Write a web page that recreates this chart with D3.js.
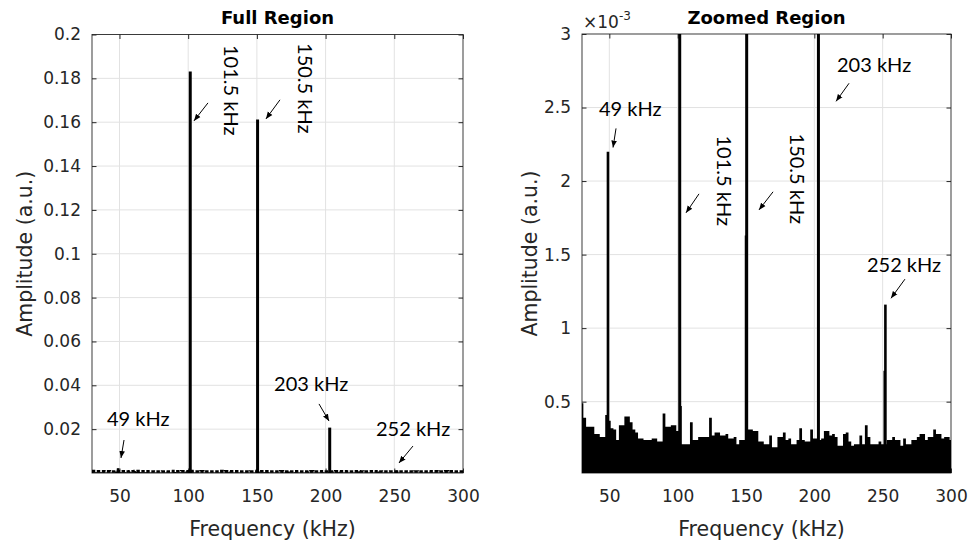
<!DOCTYPE html>
<html>
<head>
<meta charset="utf-8">
<script src="https://cdn.jsdelivr.net/npm/d3@7"></script>
<style>
  body { margin: 0; background: #fff; }
  svg { display: block; }
</style>
</head>
<body>
<svg id="chart" width="972" height="544"></svg>
<script>
// ------------------------------------------------------------------
// data (amplitudes in units of 1e-3)

const freqBins = d3.range(30, 301, 2);   // kHz, one bin every 2 kHz
const noiseLevels = [
  0.49, 0.39, 0.33, 0.33, 0.33, 0.28, 0.28, 0.26, 0.26, 0.41,
  0.37, 0.32, 0.31, 0.24, 0.34, 0.34, 0.40, 0.40, 0.36, 0.31,
  0.29, 0.25, 0.25, 0.24, 0.24, 0.24, 0.25, 0.25, 0.23, 0.23,
  0.42, 0.33, 0.33, 0.34, 0.34, 0.30, 0.47, 0.21, 0.21, 0.21,
  0.36, 0.24, 0.24, 0.26, 0.26, 0.26, 0.26, 0.39, 0.27, 0.29,
  0.29, 0.27, 0.27, 0.28, 0.25, 0.25, 0.26, 0.21, 0.24, 0.24,
  0.24, 0.31, 0.31, 0.30, 0.30, 0.23, 0.23, 0.21, 0.21, 0.27,
  0.19, 0.19, 0.26, 0.26, 0.29, 0.24, 0.25, 0.21, 0.21, 0.24,
  0.32, 0.24, 0.23, 0.23, 0.31, 0.25, 0.25, 0.24, 0.25, 0.30,
  0.30, 0.27, 0.28, 0.26, 0.20, 0.20, 0.28, 0.29, 0.23, 0.20,
  0.21, 0.21, 0.27, 0.21, 0.34, 0.26, 0.21, 0.21, 0.21, 0.23,
  0.21, 0.21, 0.24, 0.24, 0.26, 0.24, 0.24, 0.20, 0.25, 0.21,
  0.21, 0.24, 0.24, 0.26, 0.28, 0.28, 0.24, 0.26, 0.26, 0.31,
  0.28, 0.28, 0.25, 0.26, 0.26, 0.24
];

const peakFreqs  = [49, 101.5, 150.5, 203, 252];
const peakLevels = [2.2, 183.1, 161.2, 20.7, 1.16];
const sideFreqs  = [150, 251.5];
const sideLevels = [1.63, 0.71];

const peakLabels = ["49 kHz", "101.5 kHz", "150.5 kHz", "203 kHz", "252 kHz"];

const xTicks = [50, 100, 150, 200, 250, 300];
const fullTicks = [20, 40, 60, 80, 100, 120, 140, 160, 180, 200];
const zoomTicks = [0.5, 1, 1.5, 2, 2.5, 3];

// ------------------------------------------------------------------
// layout of the two panels + where the annotations sit (data units)

const panels = [
  {
    title: "Full Region", left: 92, right: 463, top: 34.5, bottom: 473,
    yDomain: [0, 200], yTicks: fullTicks, fmt: v => d3.format("~g")(v / 1000),
    ylabX: 32, dashedFloor: true,
    notes: [
      { t: 40.9,  a: 21.4,  rot: false, a1: [53.3, 15.05], a2: [51.1, 6.84] },
      { t: 126.1, a: 195.2, rot: true,  a1: [114.4, 168.8], a2: [104.2, 160.6] },
      { t: 179.9, a: 196.1, rot: true,  a1: [166.8, 170.2], a2: [156.6, 161.5] },
      { t: 162.5, a: 37.4,  rot: false, a1: [195.2, 31.5], a2: [202.5, 23.7] },
      { t: 236.7, a: 16.9,  rot: false, a1: [263.6, 12.3], a2: [253.4, 4.56] }
    ]
  },
  {
    title: "Zoomed Region", left: 582, right: 951, top: 34, bottom: 473,
    yDomain: [0.015, 3], yTicks: zoomTicks, fmt: d3.format("~g"),
    ylabX: 537, dashedFloor: false, exponent: true,
    notes: [
      { t: 42.4,  a: 2.44,  rot: false, a1: [54.9, 2.358], a2: [52.7, 2.228] },
      { t: 128.8, a: 2.31,  rot: true,  a1: [115.6, 1.913], a2: [106.1, 1.784] },
      { t: 182.2, a: 2.323, rot: true,  a1: [169.8, 1.927], a2: [159.5, 1.804] },
      { t: 216.6, a: 2.74,  rot: false, a1: [225.4, 2.665], a2: [215.9, 2.542] },
      { t: 238.5, a: 1.38,  rot: false, a1: [266.3, 1.333], a2: [256.1, 1.203] }
    ]
  }
];

const svg = d3.select("#chart");
const axisColor = "#262626";
const tickFont = "'DejaVu Sans', sans-serif";
const noteFont = "Lato, 'Open Sans', sans-serif";

const defs = svg.append("defs");
defs.append("marker")
    .attr("id", "arrowhead")
    .attr("viewBox", "0 0 10 10")
    .attr("refX", 10).attr("refY", 5)
    .attr("markerWidth", 7).attr("markerHeight", 7)
    .attr("markerUnits", "userSpaceOnUse")
    .attr("orient", "auto")
  .append("path")
    .attr("d", "M0,1 L10,5 L0,9 Z")
    .attr("fill", "#000");

const noise = freqBins.map((f, i) => ({ f: f, v: noiseLevels[i] }));

panels.forEach((p, pi) => {
  const x = d3.scaleLinear().domain([30, 300]).range([p.left, p.right]);
  const y = d3.scaleLinear().domain(p.yDomain).range([p.bottom, p.top]);
  const w = p.right - p.left, h = p.bottom - p.top;
  const g = svg.append("g");

  defs.append("clipPath").attr("id", "clip" + pi)
    .append("rect").attr("x", p.left).attr("y", p.top).attr("width", w).attr("height", h);

  // grid
  g.append("g").selectAll("line").data(xTicks.filter(t => t < 300)).join("line")
      .attr("x1", d => x(d)).attr("x2", d => x(d))
      .attr("y1", p.top).attr("y2", p.bottom)
      .attr("stroke", "#e2e2e2").attr("stroke-width", 1);
  g.append("g").selectAll("line").data(p.yTicks.slice(0, -1)).join("line")
      .attr("x1", p.left).attr("x2", p.right)
      .attr("y1", d => y(d)).attr("y2", d => y(d))
      .attr("stroke", "#e2e2e2").attr("stroke-width", 1);

  // box
  g.append("rect")
      .attr("x", p.left).attr("y", p.top).attr("width", w).attr("height", h)
      .attr("fill", "none").attr("stroke", axisColor).attr("stroke-width", 0.9);

  // axes with inward ticks, mirrored on top and right
  const tl = 4.5;
  g.append("g").attr("transform", `translate(0,${p.bottom})`)
      .call(d3.axisBottom(x).tickValues(xTicks).tickSizeInner(-tl).tickSizeOuter(0).tickPadding(17))
      .call(a => a.select(".domain").remove());
  g.append("g").attr("transform", `translate(0,${p.top})`)
      .call(d3.axisTop(x).tickValues(xTicks).tickSizeInner(-tl).tickSizeOuter(0).tickFormat(""))
      .call(a => a.select(".domain").remove());
  g.append("g").attr("transform", `translate(${p.left},0)`)
      .call(d3.axisLeft(y).tickValues(p.yTicks).tickFormat(p.fmt).tickSizeInner(-tl).tickSizeOuter(0).tickPadding(11))
      .call(a => a.select(".domain").remove());
  g.append("g").attr("transform", `translate(${p.right},0)`)
      .call(d3.axisRight(y).tickValues(p.yTicks).tickSizeInner(-tl).tickSizeOuter(0).tickFormat(""))
      .call(a => a.select(".domain").remove());

  g.selectAll(".tick line").attr("stroke", axisColor);
  g.selectAll(".tick text")
      .attr("fill", axisColor)
      .style("font-family", tickFont)
      .style("font-size", "17px");

  // data
  const plot = g.append("g").attr("clip-path", `url(#clip${pi})`);
  plot.append("path")
      .datum(noise)
      .attr("d", d3.area().x(d => x(d.f)).y0(y(0)).y1(d => y(d.v)).curve(d3.curveStep))
      .attr("fill", "#000");
  if (p.dashedFloor) {
    plot.append("path")
        .datum(noise)
        .attr("d", d3.line().x(d => x(d.f)).y(d => y(d.v) - 1).curve(d3.curveStep))
        .attr("fill", "none").attr("stroke", "#000")
        .attr("stroke-width", 2.6).attr("stroke-dasharray", "3.5 1.6");
  }
  plot.append("g").selectAll("line").data(sideFreqs).join("line")
      .attr("x1", d => x(d)).attr("x2", d => x(d))
      .attr("y1", y(0)).attr("y2", (d, i) => y(sideLevels[i]))
      .attr("stroke", "#000").attr("stroke-width", 2.5);
  plot.append("g").selectAll("line").data(peakFreqs).join("line")
      .attr("x1", d => x(d)).attr("x2", d => x(d))
      .attr("y1", y(0)).attr("y2", (d, i) => y(peakLevels[i]))
      .attr("stroke", "#000")
      .attr("stroke-width", (d, i) => peakLevels[i] > 5 ? 3 : 2.6);

  // annotations
  p.notes.forEach((n, i) => {
    const t = g.append("text")
        .text(peakLabels[i])
        .attr("fill", "#000")
        .style("font-family", noteFont)
        .style("font-size", "20px");
    if (n.rot) t.attr("transform", `translate(${x(n.t)},${y(n.a)}) rotate(90)`);
    else t.attr("x", x(n.t)).attr("y", y(n.a));
    g.append("line")
        .attr("x1", x(n.a1[0])).attr("y1", y(n.a1[1]))
        .attr("x2", x(n.a2[0])).attr("y2", y(n.a2[1]))
        .attr("stroke", "#000").attr("stroke-width", 1)
        .attr("marker-end", "url(#arrowhead)");
  });

  // titles and labels
  const cx = (p.left + p.right) / 2;
  g.append("text")
      .attr("x", cx).attr("y", 24)
      .attr("text-anchor", "middle")
      .attr("fill", "#000")
      .style("font-family", tickFont).style("font-weight", "bold").style("font-size", "18px")
      .text(p.title);
  g.append("text")
      .attr("x", cx - 5).attr("y", 536)
      .attr("text-anchor", "middle")
      .attr("fill", axisColor)
      .style("font-family", tickFont).style("font-size", "20.5px")
      .text("Frequency (kHz)");
  g.append("text")
      .attr("transform", `translate(${p.ylabX},${(p.top + p.bottom) / 2}) rotate(-90)`)
      .attr("text-anchor", "middle")
      .attr("fill", axisColor)
      .style("font-family", tickFont).style("font-size", "20.5px")
      .text("Amplitude (a.u.)");

  if (p.exponent) {
    const e = g.append("text")
        .attr("x", p.left + 1).attr("y", 28)
        .attr("fill", axisColor)
        .style("font-family", tickFont).style("font-size", "17px");
    e.append("tspan").text("\u00d710");
    e.append("tspan").attr("dy", -8).style("font-size", "12px").text("-3");
  }
});
</script>
</body>
</html>
